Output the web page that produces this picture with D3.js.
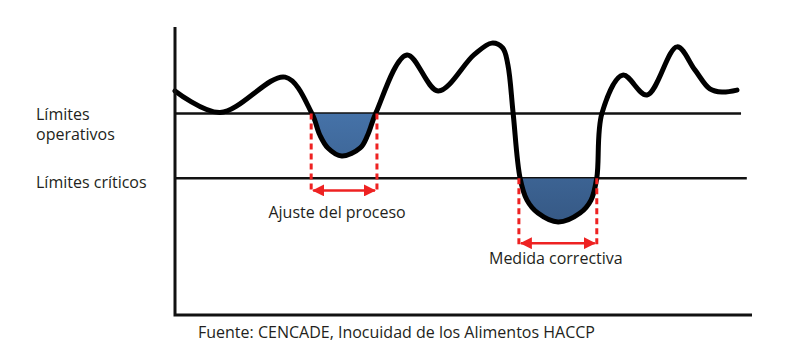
<!DOCTYPE html>
<html>
<head>
<meta charset="utf-8">
<script src="https://cdn.jsdelivr.net/npm/d3@7"></script>
<style>
  html, body { margin: 0; background: #fff; }
  svg { display: block; }
</style>
</head>
<body>
<div id="chart"></div>
<script>
// process variable over time (both in 0-100 units)
const times  = [0, 7.8, 19.1, 23.7, 25.1, 26.5, 28.9, 32.1, 33.4, 34.8, 40.2, 45.6, 51.8, 54.9, 56.8, 57.7, 58.6, 59.8,
                61.0, 62.9, 66.4, 70.2, 72.1, 73.1, 74.0, 77.6, 81.8, 87.0, 90.1, 92.7, 94.8, 97.4];
const levels = [77.8, 70.3, 82.6, 70.1, 62.5, 58.0, 55.2, 58.0, 62.5, 70.1, 90.3, 77.8, 90.3, 94.4, 92.7, 86.8, 70.1, 47.6,
                39.9, 35.4, 32.3, 35.4, 39.9, 47.6, 70.1, 83.3, 76.4, 93.1, 85.1, 78.5, 77.4, 78.1];

// control limits
const limitLabels = [['Límites', 'operativos'], ['Límites críticos']];
const limitValues = [70, 47.5];
const limitEnds   = [98.1, 99.1];

// excursions below a limit
const excursionLabels = ['Ajuste del proceso', 'Medida correctiva'];
const excursionStart  = [23.6, 59.6];
const excursionEnd    = [35.0, 73.1];
const excursionLimit  = [70, 47.5];

const sourceNote = 'Fuente: CENCADE, Inocuidad de los Alimentos HACCP';

const W = 792, H = 349;
const FONT = '"Open Sans", "Noto Sans", sans-serif';
const INK = '#231f20', RED = '#ee2222';

const x = d3.scaleLinear().domain([0, 100]).range([175, 752]);
const y = d3.scaleLinear().domain([0, 100]).range([315, 27]);
const smooth = d3.curveCatmullRom.alpha(0.5);

const svg = d3.select('#chart').append('svg')
  .attr('width', W).attr('height', H)
  .attr('viewBox', `0 0 ${W} ${H}`);

const defs = svg.append('defs');
const grad = defs.append('linearGradient').attr('id', 'fillGrad')
  .attr('x1', 0).attr('y1', 0).attr('x2', 0).attr('y2', 1);
grad.append('stop').attr('offset', 0).attr('stop-color', '#4f82be');
grad.append('stop').attr('offset', 1).attr('stop-color', '#365985');

defs.append('marker').attr('id', 'head')
  .attr('viewBox', '0 0 12 12').attr('refX', 11).attr('refY', 6)
  .attr('markerUnits', 'userSpaceOnUse')
  .attr('markerWidth', 12).attr('markerHeight', 12)
  .attr('orient', 'auto-start-reverse')
  .append('path').attr('d', 'M0,0 L12,6 L0,12 Z').attr('fill', RED);

const pts = times.map((t, i) => [t, levels[i]]);

// limit lines
svg.selectAll('.limit').data(limitValues).join('line')
  .attr('x1', x(0)).attr('x2', (d, i) => x(limitEnds[i]))
  .attr('y1', d => y(d)).attr('y2', d => y(d))
  .attr('stroke', '#111').attr('stroke-width', 2.5);

// shaded excursions: area between limit and curve, clipped below the limit
excursionLabels.forEach((lab, i) => {
  const lim = excursionLimit[i];
  defs.append('clipPath').attr('id', 'clip' + i).append('rect')
    .attr('x', x(excursionStart[i])).attr('y', y(lim))
    .attr('width', x(excursionEnd[i]) - x(excursionStart[i]))
    .attr('height', y(0) - y(lim));
  const area = d3.area().curve(smooth)
    .x(d => x(d[0])).y0(y(lim)).y1(d => y(d[1]));
  svg.append('path').datum(pts)
    .attr('d', area).attr('fill', 'url(#fillGrad)')
    .attr('clip-path', `url(#clip${i})`);
});

// process curve
const line = d3.line().curve(smooth).x(d => x(d[0])).y(d => y(d[1]));
svg.append('path').datum(pts).attr('d', line)
  .attr('fill', 'none').attr('stroke', '#000')
  .attr('stroke-width', 5).attr('stroke-linecap', 'round').attr('stroke-linejoin', 'round');

// axes (no ticks)
svg.append('path')
  .attr('d', `M${x(0)},${y(100)} V${y(0)} H${x(100)}`)
  .attr('fill', 'none').attr('stroke', '#111').attr('stroke-width', 3);

// dashed guides, arrows and labels
const drop = [77, 65];      // px below the limit where the arrow sits
const labelGap = [28, 21];
const labelShift = [-7, -2];
excursionLabels.forEach((lab, i) => {
  const y0 = y(excursionLimit[i]), ya = y0 + drop[i];
  const xs = [x(excursionStart[i]), x(excursionEnd[i])];
  xs.forEach(xx => {
    svg.append('line').attr('x1', xx).attr('x2', xx).attr('y1', y0).attr('y2', ya + 1)
      .attr('stroke', RED).attr('stroke-width', 3).attr('stroke-dasharray', '6,4');
  });
  svg.append('line')
    .attr('x1', xs[0] + 2).attr('x2', xs[1] - 2).attr('y1', ya).attr('y2', ya)
    .attr('stroke', RED).attr('stroke-width', 2.5)
    .attr('marker-start', 'url(#head)').attr('marker-end', 'url(#head)');
  svg.append('text')
    .attr('x', (xs[0] + xs[1]) / 2 + labelShift[i]).attr('y', ya + labelGap[i])
    .attr('text-anchor', 'middle')
    .attr('font-family', FONT).attr('font-size', 16).attr('fill', INK)
    .text(lab);
});

// limit names
const limitText = svg.selectAll('.limname').data(limitLabels).join('text')
  .attr('font-family', FONT).attr('font-size', 16).attr('fill', INK)
  .attr('x', 36)
  .attr('y', (d, i) => y(limitValues[i]) + (d.length > 1 ? 7 : 10));
limitText.selectAll('tspan').data(d => d).join('tspan')
  .attr('x', 36).attr('dy', (d, j) => j ? 20 : 0).text(d => d);

// source note
svg.append('text').attr('x', 198).attr('y', 338)
  .attr('font-family', FONT).attr('font-size', 16).attr('fill', INK)
  .text(sourceNote);
</script>
</body>
</html>
